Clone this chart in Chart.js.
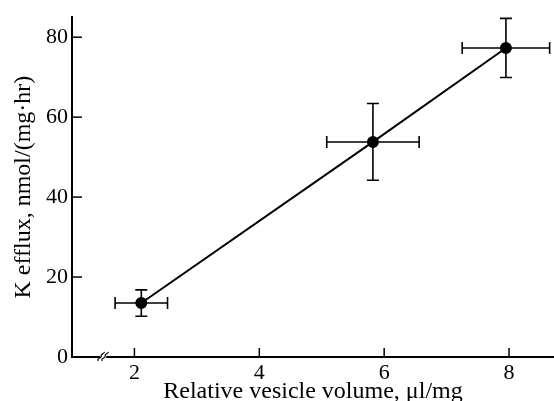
<!DOCTYPE html>
<html>
<head>
<meta charset="utf-8">
<script src="https://cdn.jsdelivr.net/npm/chart.js@4"></script>
<style>
    html, body { margin: 0; padding: 0; background: #fff; }
    #wrap { width: 554px; height: 401px; }
</style>
</head>
<body>
<div id="wrap"><canvas id="myChart"></canvas></div>
<script>
// data
const volume = [2.11, 5.82, 7.95];
const efflux = [13.5, 53.8, 77.3];
const volumeErr = [0.42, 0.74, 0.70];
const effluxErr = [3.3, 9.6, 7.4];
const xTicks = [2, 4, 6, 8];
const yTicks = [0, 20, 40, 60, 80];

const serif = "'Liberation Serif', 'DejaVu Serif', serif";

// error bars, inward ticks and the axis break mark
const extras = {
    id: 'extras',
    afterDatasetsDraw(chart) {
        const ctx = chart.ctx;
        const x = chart.scales.x, y = chart.scales.y;
        const area = chart.chartArea;
        ctx.save();
        ctx.strokeStyle = '#000';
        ctx.lineWidth = 1.6;
        volume.forEach((v, i) => {
            const px = x.getPixelForValue(v), py = y.getPixelForValue(efflux[i]);
            const x0 = x.getPixelForValue(v - volumeErr[i]), x1 = x.getPixelForValue(v + volumeErr[i]);
            const y0 = y.getPixelForValue(efflux[i] - effluxErr[i]), y1 = y.getPixelForValue(efflux[i] + effluxErr[i]);
            ctx.beginPath();
            ctx.moveTo(x0, py); ctx.lineTo(x1, py);
            ctx.moveTo(x0, py - 6); ctx.lineTo(x0, py + 6);
            ctx.moveTo(x1, py - 6); ctx.lineTo(x1, py + 6);
            ctx.moveTo(px, y0); ctx.lineTo(px, y1);
            ctx.moveTo(px - 6, y0); ctx.lineTo(px + 6, y0);
            ctx.moveTo(px - 6, y1); ctx.lineTo(px + 6, y1);
            ctx.stroke();
        });
        ctx.lineWidth = 1.5;
        xTicks.forEach(t => {
            const px = x.getPixelForValue(t);
            ctx.beginPath(); ctx.moveTo(px, area.bottom); ctx.lineTo(px, area.bottom - 9); ctx.stroke();
        });
        yTicks.forEach(t => {
            if (t === 0) return;
            const py = y.getPixelForValue(t);
            ctx.beginPath(); ctx.moveTo(area.left - 1, py); ctx.lineTo(area.left + 10, py); ctx.stroke();
        });
        // axis break
        const bx = x.getPixelForValue(1.5), by = area.bottom;
        ctx.fillStyle = '#fff';
        ctx.fillRect(bx - 3, by - 3, 6, 6);
        ctx.lineWidth = 1.2;
        [-2, 2].forEach(d => {
            ctx.beginPath();
            ctx.moveTo(bx + d - 3, by + 4);
            ctx.bezierCurveTo(bx + d - 5, by + 1, bx + d + 1, by + 1, bx + d, by - 1);
            ctx.bezierCurveTo(bx + d - 1, by - 3, bx + d + 4, by - 4, bx + d + 3, by - 5);
            ctx.stroke();
        });
        ctx.restore();
    }
};

new Chart(document.getElementById('myChart'), {
    type: 'scatter',
    data: {
        datasets: [{
            data: volume.map((v, i) => ({ x: v, y: efflux[i] })),
            showLine: true,
            borderColor: '#000',
            borderWidth: 2,
            backgroundColor: '#000',
            pointRadius: 5,
            pointHoverRadius: 5
        }]
    },
    options: {
        responsive: true,
        maintainAspectRatio: false,
        animation: false,
        layout: { autoPadding: false, padding: { top: 12, right: 0, left: 0, bottom: 0 } },
        plugins: { legend: { display: false }, tooltip: { enabled: false } },
        scales: {
            x: {
                type: 'linear',
                min: 1.0,
                max: 8.72,
                afterBuildTicks: (s) => { s.ticks = xTicks.map(v => ({ value: v })); },
                afterFit: (s) => { s.height = 44; },
                grid: { display: false, drawTicks: false },
                border: { display: true, color: '#000', width: 2 },
                ticks: { color: '#000', padding: 3, font: { family: serif, size: 22 } },
                title: {
                    display: true,
                    text: 'Relative vesicle volume, μl/mg',
                    color: '#000',
                    padding: { top: 0, bottom: 0 },
                    font: { family: serif, size: 24, lineHeight: 0.8 }
                }
            },
            y: {
                min: 0,
                max: 85,
                afterBuildTicks: (s) => { s.ticks = yTicks.map(v => ({ value: v })); },
                afterFit: (s) => { s.width = 72; },
                grid: { display: false, drawTicks: false },
                border: { display: true, color: '#000', width: 2 },
                ticks: { color: '#000', padding: 4, font: { family: serif, size: 22 } },
                title: {
                    display: true,
                    text: 'K efflux, nmol/(mg·hr)',
                    color: '#000',
                    padding: { top: 9, bottom: 0 },
                    font: { family: serif, size: 24 }
                }
            }
        }
    },
    plugins: [extras]
});
</script>
</body>
</html>
